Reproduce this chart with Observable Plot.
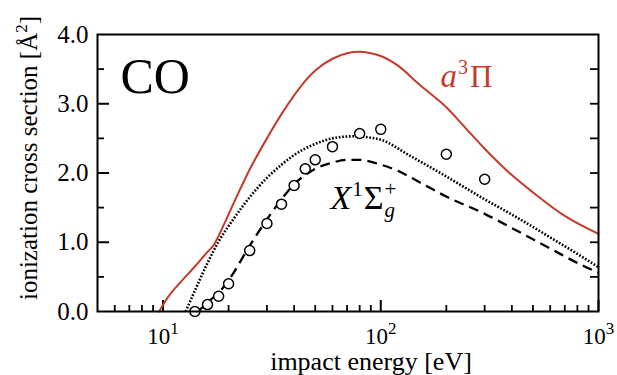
<!DOCTYPE html>
<html>
<head>
<meta charset="utf-8">
<script src="https://cdn.jsdelivr.net/npm/d3@7"></script>
<script src="https://cdn.jsdelivr.net/npm/@observablehq/plot@0.6"></script>
<style>
  body { margin: 0; background: #fff; color: #000; }
  #chart { width: 617px; height: 375px; }
</style>
</head>
<body>
<div id="chart"></div>
<script>
// ---- data ----
// a^3Pi (solid red)
const redE = [9.6, 10.5, 12, 14, 16, 17, 19, 21, 25, 30, 35, 40, 45, 50, 60, 70, 80, 90, 100, 120, 150, 200, 250, 300, 400, 500, 700, 1000];
const redY = [0, 0.2, 0.42, 0.65, 0.86, 0.95, 1.25, 1.55, 2.05, 2.5, 2.85, 3.12, 3.33, 3.48, 3.65, 3.73, 3.75, 3.73, 3.69, 3.55, 3.28, 2.95, 2.62, 2.35, 1.97, 1.72, 1.38, 1.12];
// dotted black
const dotE = [12.7, 14, 16, 18, 21, 25, 30, 35, 40, 50, 60, 75, 90, 100, 136, 200, 300, 400, 600, 850, 1000];
const dotY = [0, 0.3, 0.7, 1.01, 1.33, 1.65, 1.93, 2.12, 2.26, 2.42, 2.5, 2.53, 2.51, 2.48, 2.25, 1.95, 1.62, 1.40, 1.07, 0.78, 0.64];
// dashed black (X^1 Sigma_g^+)
const dashE = [14.5, 16, 18, 20, 25, 30, 35, 40, 45, 50, 60, 70, 80, 100, 120, 150, 200, 300, 420, 600, 850, 1000];
const dashY = [0, 0.13, 0.27, 0.45, 0.95, 1.33, 1.62, 1.84, 1.97, 2.06, 2.15, 2.19, 2.19, 2.12, 2.03, 1.87, 1.66, 1.41, 1.17, 0.91, 0.66, 0.56];
// experimental circles
const expE = [14, 16, 18, 20, 25, 30, 35, 40, 45, 50, 60, 80, 100, 200, 300];
const expY = [0.0, 0.10, 0.22, 0.40, 0.88, 1.27, 1.55, 1.82, 2.06, 2.19, 2.38, 2.57, 2.63, 2.27, 1.91];
// ticks
const xMajor = [10, 100, 1000];
const xMinor = [6, 7, 8, 9, 20, 30, 40, 50, 60, 70, 80, 90, 200, 300, 400, 500, 600, 700, 800, 900];
const yMajor = [0, 1, 2, 3, 4];
const yMinor = [0.5, 1.5, 2.5, 3.5];
const yRight = [0.5, 1, 1.5, 2, 2.5, 3, 3.5];
const yTitle = "ionization cross section [Å2]";
const xTitle = "impact energy [eV]";
const molecule = "CO";
const labelA = "a3Π";
const labelX = "X1Σg+";

const rows = (E, Y) => E.map((e, i) => ({e, v: Y[i]}));

const W = 617, H = 375, mL = 97, mR = 19, mT = 34, mB = 64;
const fw = W - mL - mR, fh = H - mT - mB;
const RED = "#c43b2c";
const FONT = "'Liberation Serif', 'Times New Roman', serif";

const chart = Plot.plot({
  width: W, height: H,
  marginLeft: mL, marginRight: mR, marginTop: mT, marginBottom: mB,
  style: {fontFamily: FONT, fontSize: "24px", background: "#fff", color: "#000", overflow: "visible"},
  x: {type: "log", domain: [5, 1000]},
  y: {domain: [0, 4]},
  marks: [
    // inward ticks
    Plot.tickX(xMajor, {x: d => d, insetTop: fh - 11, stroke: "#000", strokeWidth: 2}),
    Plot.tickX(xMinor, {x: d => d, insetTop: fh - 6, stroke: "#000", strokeWidth: 1.8}),
    Plot.tickY(yMajor.slice(1, -1), {y: d => d, insetRight: fw - 12, stroke: "#000", strokeWidth: 2}),
    Plot.tickY(yMinor, {y: d => d, insetRight: fw - 7, stroke: "#000", strokeWidth: 1.8}),
    Plot.tickY(yRight, {y: d => d, insetLeft: fw - 8, stroke: "#000", strokeWidth: 1.8}),
    // tick labels
    Plot.axisX(xMajor, {tickSize: 0, tickPadding: 16, fontSize: 23, label: null,
      tickFormat: d => "10^" + Math.round(Math.log10(d))}),
    Plot.axisY(yMajor, {tickSize: 0, tickPadding: 9, fontSize: 25, label: null,
      tickFormat: d3.format(".1f")}),
    // curves
    Plot.line(rows(redE, redY), {x: "e", y: "v", stroke: RED, strokeWidth: 2, curve: "monotone-x"}),
    Plot.line(rows(dotE, dotY), {x: "e", y: "v", stroke: "#000", strokeWidth: 2.6, strokeDasharray: "1.7,1.7", strokeLinecap: "butt", curve: "monotone-x"}),
    Plot.line(rows(dashE, dashY), {x: "e", y: "v", stroke: "#000", strokeWidth: 2.3, strokeDasharray: "10,6", strokeLinecap: "butt", curve: "monotone-x"}),
    Plot.dot(rows(expE, expY), {x: "e", y: "v", r: 5, stroke: "#000", strokeWidth: 1.5, fill: "#fff"}),
    // frame
    Plot.frame({stroke: "#000", strokeWidth: 2}),
    // annotations
    Plot.text([molecule], {text: d => d, frameAnchor: "top-left", textAnchor: "start", lineAnchor: "bottom", dx: 23, dy: 58, fontSize: 50}),
    Plot.text([labelA], {text: d => d, frameAnchor: "top-left", textAnchor: "start", lineAnchor: "bottom", dx: 343, dy: 52, fontSize: 30, fill: RED}),
    Plot.text([labelX], {text: d => d, frameAnchor: "top-left", textAnchor: "start", lineAnchor: "bottom", dx: 233, dy: 174, fontSize: 31}),
    // axis titles
    Plot.text([yTitle], {text: d => d, frameAnchor: "left", textAnchor: "middle", rotate: -90, dx: -69, dy: -15, fontSize: 25, lineAnchor: "middle"}),
    Plot.text([xTitle], {text: d => d, frameAnchor: "bottom", textAnchor: "middle", dx: 23, dy: 58, fontSize: 26, lineAnchor: "bottom"})
  ]
});
document.getElementById("chart").appendChild(chart);

// ---- rich text (superscripts / subscripts) ----
function rich(content, parts) {
  d3.select(chart).selectAll("text").filter(function() { return this.textContent === content; }).each(function() {
    const t = d3.select(this);
    t.text("");
    parts.forEach(p => {
      const s = t.append("tspan").text(p.t);
      if (p.dy) s.attr("dy", p.dy);
      if (p.dx) s.attr("dx", p.dx);
      if (p.size) s.attr("font-size", p.size);
      if (p.italic) s.attr("font-style", "italic");
    });
  });
}
rich(labelA, [
  {t: "a", italic: true, size: 33},
  {t: "3", size: 20, dy: -13, dx: 1},
  {t: "Π", size: 31, dy: 13, dx: 2}
]);
rich(labelX, [
  {t: "X", italic: true, size: 34},
  {t: "1", size: 21, dy: -13, dx: 1},
  {t: "Σ", size: 34, dy: 13, dx: 1},
  {t: "g", italic: true, size: 21, dy: 8, dx: 1},
  {t: "+", size: 21, dy: -21, dx: -10.5}
]);
rich(yTitle, [
  {t: "ionization cross section [Å"},
  {t: "2", size: 17, dy: -10},
  {t: "]", dy: 10}
]);
d3.select(chart).selectAll('g[aria-label="x-axis tick label"] text').each(function() {
  const [b, e] = this.textContent.split("^");
  if (e === undefined) return;
  const t = d3.select(this);
  t.text(b);
  t.append("tspan").attr("font-size", 17).attr("dy", -10).text(e);
});
</script>
</body>
</html>
